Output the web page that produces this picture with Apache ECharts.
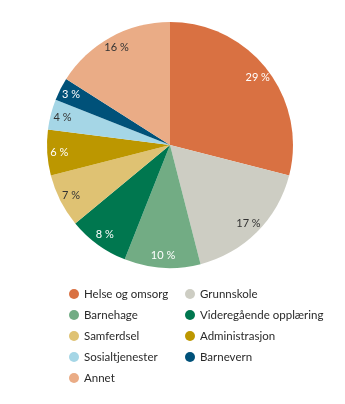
<!DOCTYPE html>
<html><head><meta charset="utf-8">
<script src="https://cdn.jsdelivr.net/npm/echarts@6/dist/echarts.min.js"></script>
<style>html,body{margin:0;padding:0;background:#fff}#c{width:345px;height:404px}</style>
</head><body><div id="c"></div>
<script>
const categories = ["Helse og omsorg","Grunnskole","Barnehage","Videregående opplæring","Samferdsel","Administrasjon","Sosialtjenester","Barnevern","Annet"];
const values = [29,17,10,8,7,6,4,3,16];
const colors = ["#D97142","#CDCDC3","#72AC84","#00774F","#DFC273","#BC9700","#A5D6E6","#005179","#EAAC86"];
const labelColors = ["#fff","#333","#fff","#fff","#333","#fff","#333","#fff","#333"];
const leftCol = ["Helse og omsorg","Barnehage","Samferdsel","Sosialtjenester","Annet"];
const rightCol = ["Grunnskole","Videregående opplæring","Administrasjon","Barnevern"];

const font = "Lato";
const chart = echarts.init(document.getElementById('c'), null, {renderer:'canvas'});
const data = categories.map((n,i)=>({name:n,value:values[i],itemStyle:{color:colors[i]}}));
const labelData = categories.map((n,i)=>({name:n,value:values[i],label:{color:labelColors[i]}}));
const legendBase = {orient:'vertical', icon:'circle', itemWidth:10, itemHeight:10, itemGap:9,
  selectedMode:false, textStyle:{fontFamily:font,fontSize:11.5,color:'#2a2a2a'}, top:283};
chart.setOption({
  animation:false,
  legend:[
    Object.assign({data:leftCol, left:64}, legendBase),
    Object.assign({data:rightCol, left:180}, legendBase)
  ],
  series:[
    {type:'pie', center:[170,145], radius:[0,123], startAngle:90, clockwise:true,
     label:{show:false}, labelLine:{show:false}, data:data, silent:true},
    {type:'pie', center:[170,145], radius:[93,123], startAngle:90, clockwise:true,
     itemStyle:{color:'rgba(0,0,0,0)'}, silent:true, legendHoverLink:false,
     label:{show:true, position:'inside', formatter:'{c} %', fontFamily:font, fontSize:11},
     labelLine:{show:false}, data:labelData}
  ]
});
</script></body></html>
